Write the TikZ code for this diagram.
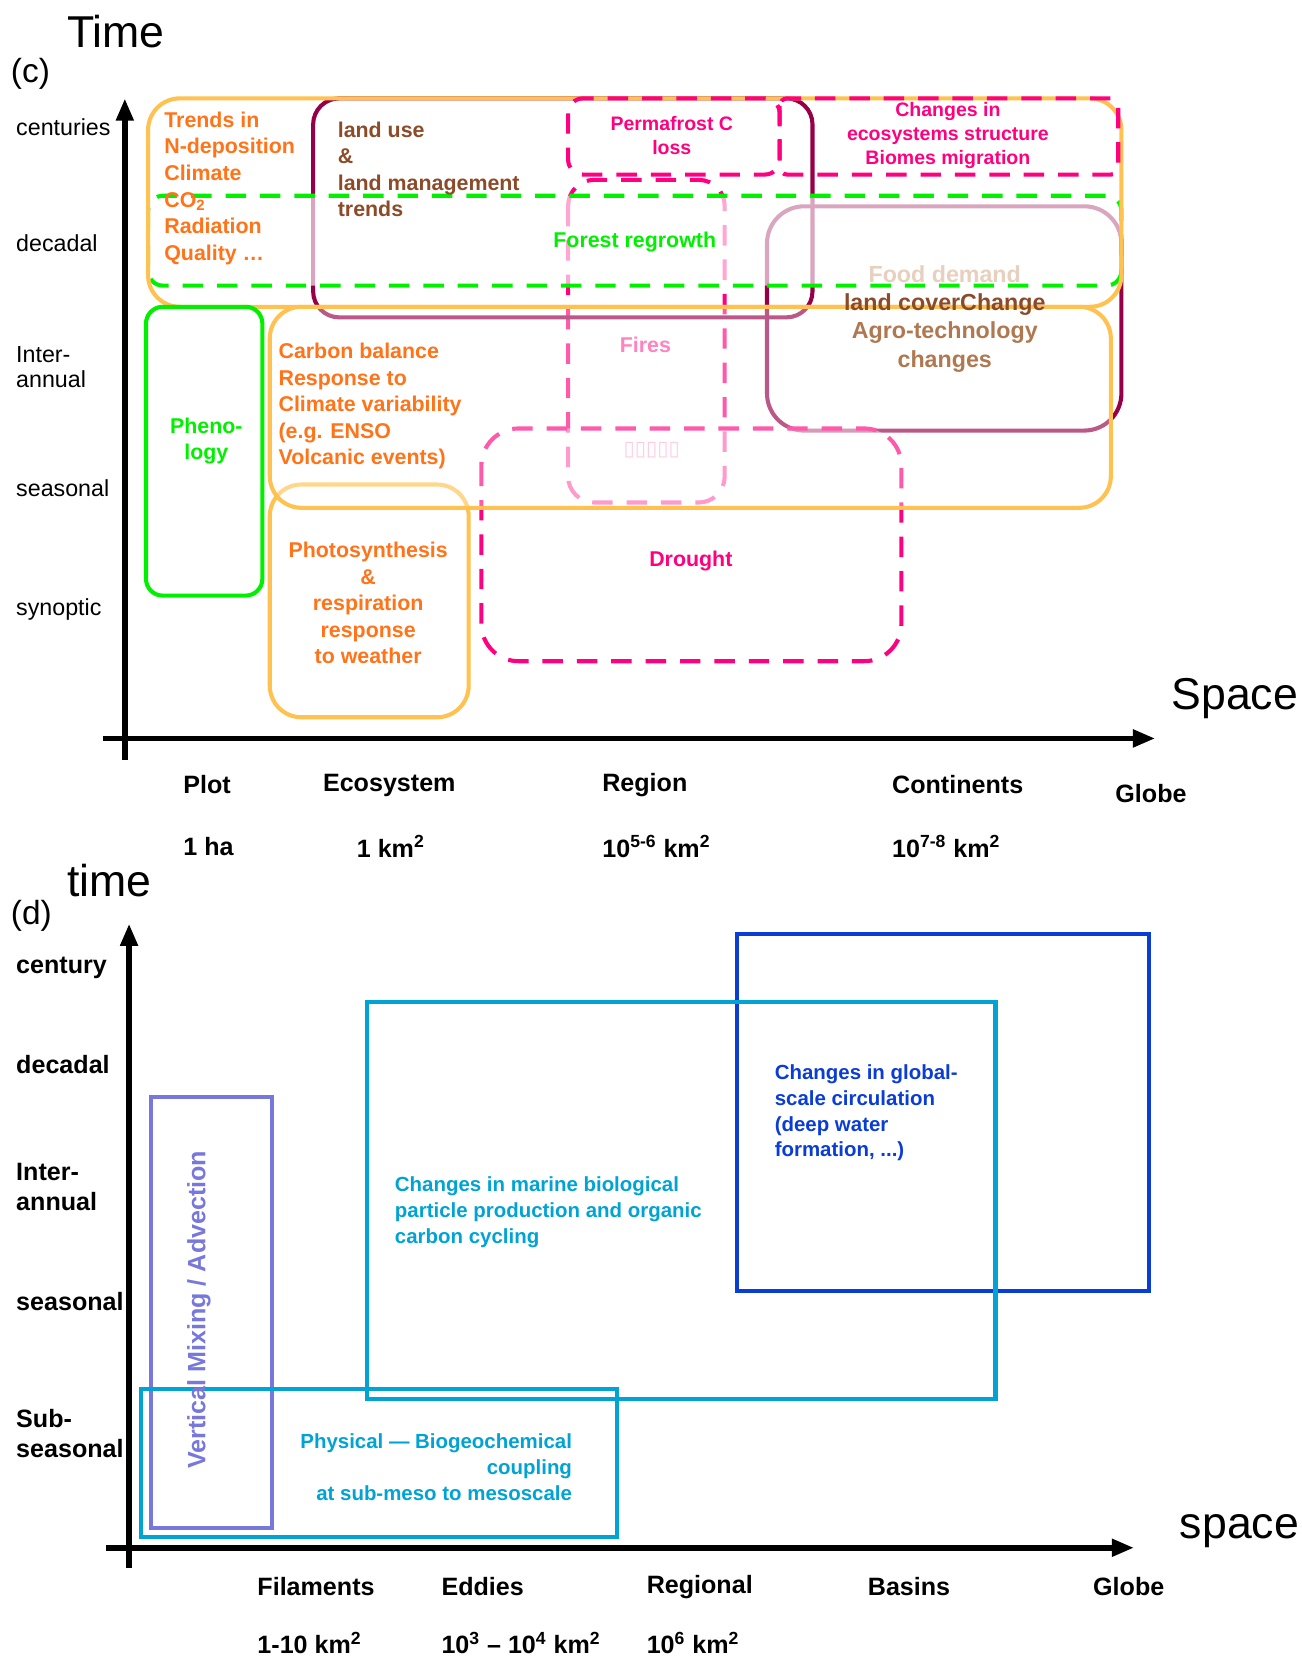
\documentclass[tikz,border=0pt]{standalone}
\usepackage{fontspec}
\setmainfont{Liberation Sans}
\newfontfamily\glyphfont{DejaVu Sans}
\usepackage{tikz}
\usetikzlibrary{arrows.meta}
\usetikzlibrary{positioning}

\definecolor{boxorange}{RGB}{255,193,79}
\definecolor{txtorange}{RGB}{255,115,25}
\definecolor{regrowgreen}{RGB}{0,240,0}
\definecolor{firepink}{RGB}{255,0,128}
\definecolor{landmaroon}{RGB}{150,0,72}
\definecolor{landbrown}{RGB}{140,75,40}
\definecolor{agrobrown}{RGB}{176,120,80}
\definecolor{fooddemand}{RGB}{232,208,190}
\definecolor{oceancyan}{RGB}{0,163,212}
\definecolor{gyreblue}{RGB}{10,60,214}
\definecolor{mixpurple}{RGB}{120,120,220}

\begin{document}
\begin{tikzpicture}[x=0.02cm,y=-0.02cm,>={Triangle[length=12pt,width=9pt]},
    box/.style={line width=2.2pt,rounded corners=#1},box/.default=14pt,
    dbox/.style={box=#1,dash pattern=on 11pt off 7.5pt},dbox/.default=8pt,
    sqbox/.style={line width=2.2pt},
    axisline/.style={->,line width=3pt},
    big/.style={anchor=west,inner sep=0pt,font=\fontsize{24}{28}\selectfont},
    panel/.style={anchor=west,inner sep=0pt,font=\fontsize{18}{22}\selectfont},
    timelabel/.style={anchor=west,align=left,inner sep=0pt,font=\fontsize{12.5}{13.7}\selectfont},
    timelabelb/.style={anchor=west,align=left,inner sep=0pt,font=\fontsize{13.5}{16.5}\selectfont\bfseries},
    scalelabel/.style={anchor=west,inner sep=0pt,font=\fontsize{13.5}{16}\selectfont\bfseries},
    txt/.style={inner sep=0pt,align=center,font=\fontsize{11.5}{14.3}\selectfont\bfseries},
    smalltxt/.style={inner sep=0pt,align=center,font=\fontsize{10.5}{13}\selectfont\bfseries},
    oceantxt/.style={inner sep=0pt,align=left,font=\fontsize{11}{13.9}\selectfont\bfseries},
  ]
\useasboundingbox (0,0) rectangle (1230,1571);

% ---------------- (c) land ----------------
\draw[dbox=14pt,firepink] (537,170) rectangle (685,475);
\node[txt,firepink!75] (fires) at (610,326) {Fires};
\node[inner sep=0pt,font=\glyphfont\fontsize{11}{12}\selectfont,firepink!50] (tofu) at (616,426) {▯▯▯▯▯};
\draw[box=14pt,landmaroon] (296,93) rectangle (768,300);
\draw[box=20pt,landmaroon] (725,195) rectangle (1060,407);
\draw[box=17pt,boxorange] (255,458) rectangle (443,678);
\draw[dbox=8pt,regrowgreen,fill=white,fill opacity=0.65] (140,185) rectangle (1060,270);
\draw[dbox=20pt,firepink,fill=white,fill opacity=0.4] (455,405) rectangle (852,625);
\draw[box=17pt,boxorange,fill=white,fill opacity=0.35] (255,290) rectangle (1050,480);
\draw[box=17pt,boxorange] (140,93) rectangle (1060,290);
\draw[box=9pt,regrowgreen] (138,290) rectangle (248,563);
\draw[dbox=8pt,firepink] (537,93) rectangle (737,165);
\draw[dbox=4pt,firepink] (737,93) rectangle (1057,165);

\coordinate (cO) at (118,718);
\coordinate (cT) at (118,93);
\coordinate (cL) at (97,698);
\coordinate (cS) at (1092,698);
\draw[axisline] (cO) -- (cT);
\draw[axisline] (cL) -- (cS);

\node[big] (timeC) at (63,30) {Time};
\node[panel] (panelC) at (10,70) {(c)};
\node[big] (spaceC) at (1107,660) {Space};

\node[timelabel] (centuries) at (15,120) {centuries};
\node[timelabel] (decadalC) at (15,230) {decadal};
\node[timelabel] (interC) at (15,347) {Inter-\\annual};
\node[timelabel] (seasonalC) at (15,461) {seasonal};
\node[timelabel] (synoptic) at (15,576) {synoptic};

\node[txt,txtorange,anchor=west,align=left] (trends) at (155,178)
  {Trends in\\N-deposition\\Climate\\CO\textsubscript{2}\\Radiation\\Quality …};
\node[txt,landbrown,anchor=west,align=left] (landuse) at (319,160)
  {land use\\\&\\land management\\trends};
\node[smalltxt,firepink] (permafrost) at (635,128) {Permafrost C\\loss};
\node[smalltxt,firepink] (biomes) at (896,128) {Changes in\\ecosystems structure\\Biomes migration};
\node[txt,regrowgreen] (regrowth) at (600,229) {Forest regrowth};
\node[txt,fooddemand,font=\fontsize{12.5}{15}\selectfont\bfseries] (food) at (893,259) {Food demand};
\node[txt,landbrown,font=\fontsize{12.5}{15}\selectfont\bfseries] (landcover) at (893,288) {land coverChange};
\node[txt,agrobrown,font=\fontsize{12.5}{15.4}\selectfont\bfseries] (agro) at (893,328) {Agro-technology\\changes};
\node[txt,txtorange,anchor=west,align=left] (carbon) at (263,384)
  {Carbon balance\\Response to\\Climate variability\\(e.g. ENSO\\Volcanic  events)};
\node[txt,regrowgreen] (pheno) at (195,417) {Pheno-\\logy};
\node[txt,txtorange] (photo) at (348,570) {Photosynthesis\\\&\\respiration\\response\\to weather};
\node[txt,firepink] (drought) at (653,530) {Drought};

\node[scalelabel] (plot) at (173,742) {Plot};
\node[scalelabel] (ecosystem) at (305,742) {Ecosystem};
\node[scalelabel] (region) at (569,742) {Region};
\node[scalelabel] (continents) at (843,742) {Continents};
\node[scalelabel] (globeC) at (1054,750) {Globe};
\node[scalelabel] (ha) [below=1.16cm of plot.west,anchor=west] {1 ha};
\node[scalelabel] (km1) [below=1.16cm of ecosystem.west,anchor=west,xshift=0.64cm] {1 km\textsuperscript{2}};
\node[scalelabel] (km56) [below=1.16cm of region.west,anchor=west] {10\textsuperscript{5-6} km\textsuperscript{2}};
\node[scalelabel] (km78) [below=1.16cm of continents.west,anchor=west] {10\textsuperscript{7-8} km\textsuperscript{2}};

% ---------------- (d) ocean ----------------
\draw[sqbox,mixpurple] (143,1037) rectangle (257,1444);
\draw[sqbox,gyreblue] (697,883) rectangle (1086,1220);
\draw[sqbox,oceancyan] (347,947) rectangle (941,1322);
\draw[sqbox,oceancyan] (133,1313) rectangle (583,1453);

\coordinate (dO) at (122,1482);
\coordinate (dT) at (122,873);
\coordinate (dL) at (100,1463);
\coordinate (dS) at (1072,1463);
\draw[axisline] (dO) -- (dT);
\draw[axisline] (dL) -- (dS);

\node[big] (timeD) at (63,832) {time};
\node[panel] (panelD) at (10,866) {(d)};
\node[big] (spaceD) at (1115,1447) {space};

\node[timelabelb] (century) at (15,915) {century};
\node[timelabelb] (decadalD) at (15,1006) {decadal};
\node[timelabelb] (interD) at (15,1122) {Inter-\\annual};
\node[timelabelb] (seasonalD) at (15,1230) {seasonal};
\node[timelabelb] (subseasonal) at (15,1355) {Sub-\\seasonal};

\node[txt,mixpurple,rotate=90,font=\fontsize{13.5}{16}\selectfont\bfseries] (mixing) at (188,1238) {Vertical Mixing / Advection};
\node[oceantxt,oceancyan,anchor=west] (marine) at (373,1146)
  {Changes in marine biological\\particle production and organic\\carbon cycling};
\node[oceantxt,gyreblue,anchor=west] (gyre) at (732,1052)
  {Changes in global-\\scale circulation\\(deep water\\formation,  ...)};
\node[oceantxt,oceancyan,align=right,anchor=east] (coupling) at (541,1387)
  {Physical — Biogeochemical\\coupling\\at sub-meso to mesoscale};

\node[scalelabel] (filaments) at (243,1500) {Filaments};
\node[scalelabel] (eddies) at (417,1500) {Eddies};
\node[scalelabel] (regional) at (611,1500) {Regional};
\node[scalelabel] (basins) at (820,1500) {Basins};
\node[scalelabel] (globeD) at (1033,1500) {Globe};
\node[scalelabel] (km110) [below=1.06cm of filaments.west,anchor=west] {1-10 km\textsuperscript{2}};
\node[scalelabel] (km34) [below=1.06cm of eddies.west,anchor=west] {10\textsuperscript{3} – 10\textsuperscript{4} km\textsuperscript{2}};
\node[scalelabel] (km6) [below=1.06cm of regional.west,anchor=west] {10\textsuperscript{6} km\textsuperscript{2}};
\end{tikzpicture}
\end{document}
